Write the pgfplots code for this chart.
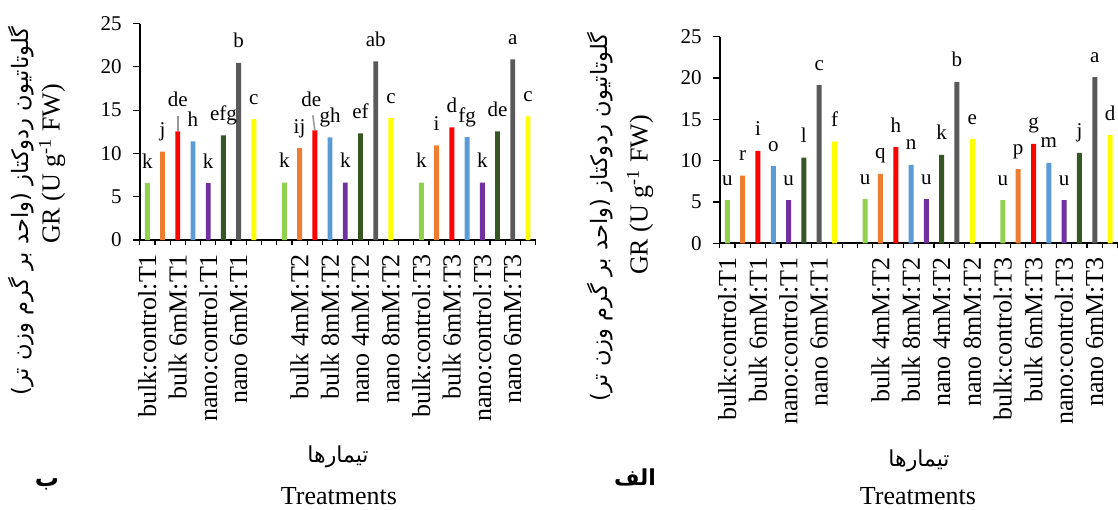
\documentclass[border=0pt]{standalone}
\usepackage{pgfplots}
\pgfplotsset{compat=1.18}
\usepackage{fontspec}
\setmainfont{Liberation Serif}
\newfontfamily\fa[Script=Arabic]{DejaVu Sans}
\TeXXeTstate=1

\definecolor{cgreen}{RGB}{146,208,80}
\definecolor{corange}{RGB}{237,125,49}
\definecolor{cred}{RGB}{255,0,0}
\definecolor{cblue}{RGB}{91,155,213}
\definecolor{cpurple}{RGB}{112,48,160}
\definecolor{cdkgreen}{RGB}{55,86,35}
\definecolor{cgray}{RGB}{89,89,89}
\definecolor{cyellow}{RGB}{255,255,0}

\pgfplotsset{
  grpanel/.style={
    scale only axis,
    ybar, bar width=2.45pt,
    xmin=-0.5, xmax=25.5, ymin=0, ymax=25,
    axis x line*=bottom, axis y line*=left,
    axis line style={line width=0.9pt, black, -},
    tick align=outside,
    ytick={0,5,...,25},
    major tick length=3.5pt, minor tick length=2.5pt,
    tick style={black, line width=0.6pt},
    xtick={0,2,4,6,10,12,14,16,18,20,22,24},
    xticklabels={bulk:control:T1, bulk 6mM:T1, nano:control:T1, nano 6mM:T1,
      bulk 4mM:T2, bulk 8mM:T2, nano 4mM:T2, nano 8mM:T2,
      bulk:control:T3, bulk 6mM:T3, nano:control:T3, nano 6mM:T3},
    minor xtick={-0.5,0.5,...,25.5},
    major x tick style={draw=none},
    xticklabel style={rotate=90, anchor=east, font=\fontsize{13}{15}\selectfont},
    yticklabel style={font=\fontsize{10.5}{12}\selectfont, xshift=-2pt},
    /pgf/number format/assume math mode=true,
    nodes near coords,
    point meta=explicit symbolic,
    every node near coord/.append style={anchor=base, yshift=7.5pt, inner sep=0pt,
      font=\fontsize{10.5}{12}\selectfont, text=black},
    clip=false,
  },
  gbar/.style={fill=#1, draw=none, bar shift=0pt},
}

\begin{document}
\begin{tikzpicture}
\path[use as bounding box] (0,0) rectangle (559pt,-254.5pt);

% ---------- panel ب ----------
\begin{axis}[grpanel, at={(69.85pt,-120pt)}, anchor=south west,
  width=197.95pt, height=108.25pt]
\addplot[gbar=cgreen] coordinates {(0,6.56) [k] (9,6.64) [k] (18,6.64) [k]};
\addplot[gbar=corange] coordinates {(1,10.22) [j] (10,10.61) [ij] (19,10.92) [i]};
\addplot[gbar=cred,
  visualization depends on={value \thisrow{dx}\as\ldx},
  visualization depends on={value \thisrow{dy}\as\ldy},
  every node near coord/.append style={xshift=\ldx pt, yshift=\ldy pt}]
  table[x=x, y=y, meta=lab] {
x  y     lab dx   dy
2  12.54 de  0    4.75
11 12.65 de  -1.8 4.5
20 13.00 d   0    0
};
\addplot[gbar=cblue] coordinates {(3,11.38) [h] (12,11.84) [gh] (21,11.88) [fg]};
\addplot[gbar=cpurple] coordinates {(4,6.56) [k] (13,6.64) [k] (22,6.64) [k]};
\addplot[gbar=cdkgreen] coordinates {(5,12.08) [efg] (14,12.31) [ef] (23,12.54) [de]};
\addplot[gbar=cgray] coordinates {(6,20.45) [b] (15,20.64) [ab] (24,20.87) [a]};
\addplot[gbar=cyellow] coordinates {(7,13.97) [c] (16,14.08) [c] (25,14.27) [c]};
% leader lines of the moved labels
\draw[black!40, line width=0.8pt] (axis cs:2,12.6) -- (axis cs:2,14.3);
\draw[black!40, line width=0.8pt] (axis cs:11,12.7) -- (axis cs:10.87,14.4);
\end{axis}

% ---------- panel الف ----------
\begin{axis}[grpanel, at={(359.85pt,-121.65pt)}, anchor=south west,
  width=199pt, height=103.3pt, bar width=2.5pt]
\addplot[gbar=cgreen] coordinates {(0,5.24) [u] (9,5.36) [u] (18,5.24) [u]};
\addplot[gbar=corange] coordinates {(1,8.19) [r] (10,8.39) [q] (19,8.99) [p]};
\addplot[gbar=cred] coordinates {(2,11.17) [i] (11,11.65) [h] (20,12.02) [g]};
\addplot[gbar=cblue] coordinates {(3,9.35) [o] (12,9.48) [n] (21,9.72) [m]};
\addplot[gbar=cpurple] coordinates {(4,5.24) [u] (13,5.36) [u] (22,5.24) [u]};
\addplot[gbar=cdkgreen] coordinates {(5,10.36) [l] (14,10.69) [k] (23,10.93) [j]};
\addplot[gbar=cgray] coordinates {(6,19.15) [c] (15,19.52) [b] (24,20.12) [a]};
\addplot[gbar=cyellow] coordinates {(7,12.30) [f] (16,12.62) [e] (25,13.10) [d]};
\end{axis}

% axis titles
\node[rotate=90, font=\fa\fontsize{11.3}{13}\selectfont] at (10.5pt,-105.5pt)
  {\beginR گلوتاتیون ردوکتاز (واحد بر گرم وزن تر)\endR};
\node[rotate=90, font=\fontsize{13}{15}\selectfont] at (26pt,-82pt)
  {GR (U g\textsuperscript{-1} FW)};
\node[rotate=90, font=\fa\fontsize{11.3}{13}\selectfont] at (300pt,-108.5pt)
  {\beginR گلوتاتیون ردوکتاز (واحد بر گرم وزن تر)\endR};
\node[rotate=90, font=\fontsize{13}{15}\selectfont] at (320pt,-97.5pt)
  {GR (U g\textsuperscript{-1} FW)};

\node[font=\fa\fontsize{11}{13}\selectfont] at (169pt,-228.5pt) {\beginR تیمارها\endR};
\node[anchor=base, font=\fontsize{13}{15}\selectfont] at (169.5pt,-252.3pt) {Treatments};
\node[font=\fa\fontsize{11}{13}\selectfont] at (459.5pt,-230.5pt) {\beginR تیمارها\endR};
\node[anchor=base, font=\fontsize{13}{15}\selectfont] at (459pt,-252.3pt) {Treatments};

% panel letters
\node[font=\fa\bfseries\fontsize{12}{14}\selectfont] at (23.5pt,-242pt) {\beginR ب\endR};
\node[font=\fa\bfseries\fontsize{11}{13}\selectfont] at (317.5pt,-238.5pt) {\beginR الف\endR};
\end{tikzpicture}
\end{document}
